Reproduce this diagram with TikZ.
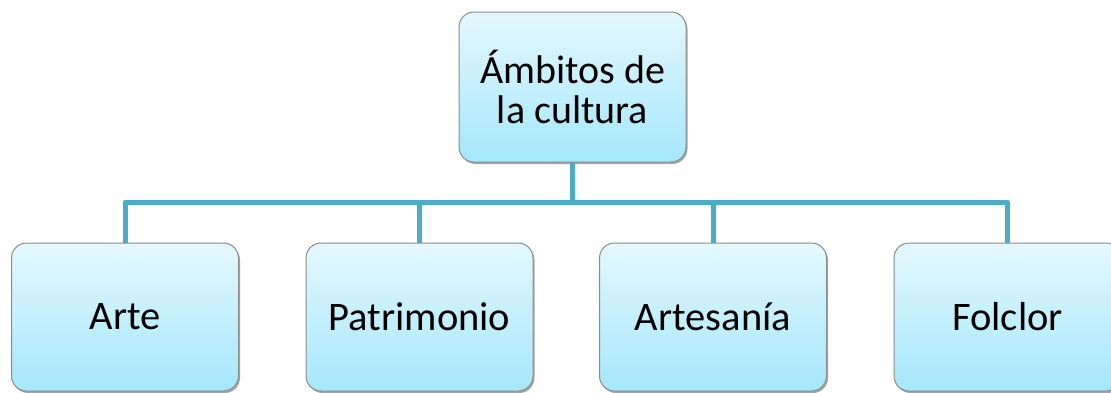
\documentclass[tikz,border=0pt]{standalone}
\usepackage{fontspec}
\setmainfont{Carlito}
\usetikzlibrary{shadows}
\definecolor{conncol}{HTML}{4BACC6}
\definecolor{boxtop}{HTML}{E4F8FE}
\definecolor{boxbot}{HTML}{A5E7FB}
\definecolor{boxline}{HTML}{8C8C8C}
\tikzset{
  box/.style={rectangle, rounded corners=15pt, draw=boxline, line width=1pt,
    top color=boxtop, bottom color=boxbot, minimum width=227pt,
    align=center, inner sep=0pt,
    drop shadow={shadow xshift=1.5pt, shadow yshift=-2pt, opacity=0.35, fill=black}},
  leaf/.style={box, minimum height=148pt, font=\fontsize{40.5}{46}\selectfont},
  rootbox/.style={box, minimum height=150pt, font=\fontsize{40}{40}\selectfont},
  conn/.style={draw=conncol, line width=5pt, line join=round}
}
\begin{document}
\begin{tikzpicture}[x=1pt,y=-1pt]
\useasboundingbox (0,0) rectangle (1111,392);
\begin{scope}
\clip (0,0) rectangle (1111,392);
\coordinate (busy) at (0,202);
\node[rootbox] (root) at (572.5,87) {Ámbitos de\\la cultura};
\node[leaf] (arte) at (125,317) {Arte};
\node[leaf] (patr) at (419.5,317) {Patrimonio};
\node[leaf] (arts) at (713,317) {Artesanía};
\node[leaf] (folc) at (1007.5,317) {Folclor};
\draw[conn] (root.south) -- (root.south |- busy);
\draw[conn] (arte.north) -- (arte.north |- busy) -- (folc.north |- busy) -- (folc.north);
\draw[conn] (patr.north) -- (patr.north |- busy);
\draw[conn] (arts.north) -- (arts.north |- busy);
\end{scope}
\end{tikzpicture}
\end{document}
